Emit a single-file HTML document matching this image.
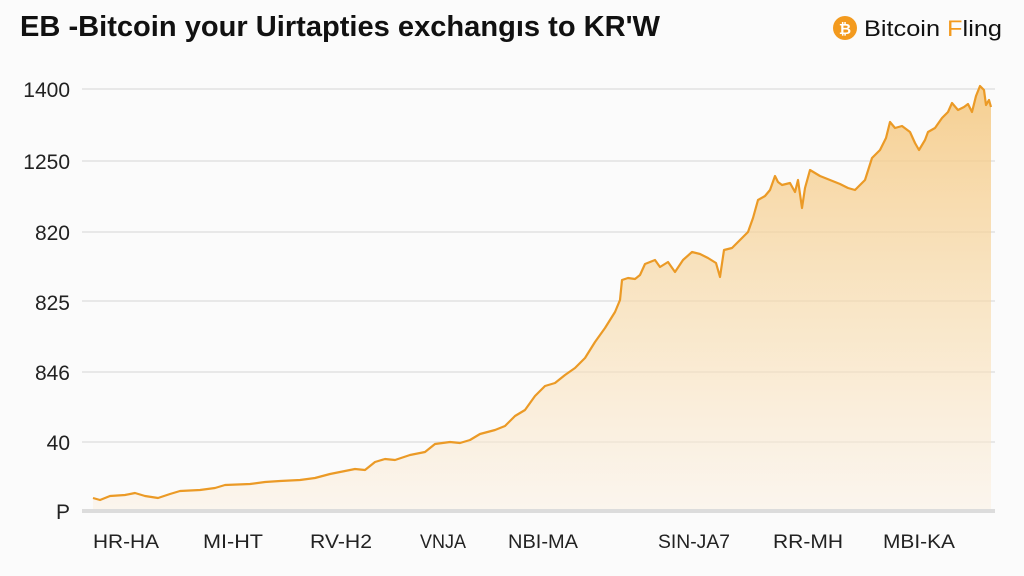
<!DOCTYPE html>
<html><head><meta charset="utf-8"><style>
html,body{margin:0;padding:0;background:#fbfbfb;width:1024px;height:576px;overflow:hidden}
svg{display:block}
text{font-family:"Liberation Sans","DejaVu Sans",sans-serif}
</style></head><body>
<svg width="1024" height="576" viewBox="0 0 1024 576">
<defs>
<linearGradient id="g" x1="0" y1="0" x2="0" y2="1">
<stop offset="0" stop-color="#f5c77e" stop-opacity="0.85"/>
<stop offset="0.6" stop-color="#f8dcae" stop-opacity="0.6"/>
<stop offset="1" stop-color="#fbefe0" stop-opacity="0.5"/>
</linearGradient>
</defs>
<rect width="1024" height="576" fill="#fbfbfb"/>
<text x="20" y="36" font-size="29" font-weight="bold" fill="#111" textLength="640" lengthAdjust="spacingAndGlyphs">EB -Bitcoin your Uirtapties exchangıs to KR'W</text>
<circle cx="845" cy="28" r="12" fill="#f39a1e"/>
<text x="845" y="34" font-size="15" font-weight="bold" fill="#fff" text-anchor="middle">₿</text>
<text x="864" y="36" font-size="22" fill="#111" textLength="138" lengthAdjust="spacingAndGlyphs">Bitcoin <tspan fill="#f39a1e">F</tspan>ling</text>
<g stroke="#e2e2e2" stroke-width="1.5">
<line x1="82" y1="89" x2="995" y2="89"/>
<line x1="82" y1="161" x2="995" y2="161"/>
<line x1="82" y1="232" x2="995" y2="232"/>
<line x1="82" y1="301" x2="995" y2="301"/>
<line x1="82" y1="372" x2="995" y2="372"/>
<line x1="82" y1="442" x2="995" y2="442"/>
</g>
<g font-size="21" fill="#222" text-anchor="end">
<text x="70" y="97">1400</text>
<text x="70" y="169">1250</text>
<text x="70" y="240">820</text>
<text x="70" y="310">825</text>
<text x="70" y="380">846</text>
<text x="70" y="450">40</text>
<text x="70" y="519">P</text>
</g>
<path d="M93,498 L100,500 L110,496 L125,495 L135,493 L145,496 L158,498 L170,494 L180,491 L200,490 L215,488 L225,485 L250,484 L265,482 L280,481 L300,480 L315,478 L330,474 L345,471 L355,469 L365,470 L375,462 L385,459 L395,460 L410,455 L425,452 L435,444 L450,442 L460,443 L470,440 L480,434 L495,430 L505,426 L515,416 L525,410 L535,396 L545,386 L555,383 L565,375 L575,368 L585,358 L595,342 L605,328 L615,312 L620,300 L622,280 L628,278 L635,279 L640,275 L645,264 L650,262 L655,260 L660,267 L668,262 L675,272 L683,260 L692,252 L700,254 L708,258 L716,263 L720,277 L724,250 L732,248 L740,240 L748,232 L753,218 L758,200 L765,196 L770,190 L775,176 L778,182 L782,185 L790,183 L795,192 L798,180 L802,208 L805,188 L810,170 L820,176 L830,180 L840,184 L848,188 L855,190 L865,180 L872,158 L880,150 L886,138 L890,122 L895,128 L902,126 L910,132 L915,143 L919,150 L925,140 L928,132 L935,128 L942,118 L948,112 L952,103 L958,110 L964,107 L968,104 L972,112 L976,96 L980,86 L984,90 L986,105 L989,100 L991,107 L991,510 L93,510 Z" fill="url(#g)"/>
<path d="M93,498 L100,500 L110,496 L125,495 L135,493 L145,496 L158,498 L170,494 L180,491 L200,490 L215,488 L225,485 L250,484 L265,482 L280,481 L300,480 L315,478 L330,474 L345,471 L355,469 L365,470 L375,462 L385,459 L395,460 L410,455 L425,452 L435,444 L450,442 L460,443 L470,440 L480,434 L495,430 L505,426 L515,416 L525,410 L535,396 L545,386 L555,383 L565,375 L575,368 L585,358 L595,342 L605,328 L615,312 L620,300 L622,280 L628,278 L635,279 L640,275 L645,264 L650,262 L655,260 L660,267 L668,262 L675,272 L683,260 L692,252 L700,254 L708,258 L716,263 L720,277 L724,250 L732,248 L740,240 L748,232 L753,218 L758,200 L765,196 L770,190 L775,176 L778,182 L782,185 L790,183 L795,192 L798,180 L802,208 L805,188 L810,170 L820,176 L830,180 L840,184 L848,188 L855,190 L865,180 L872,158 L880,150 L886,138 L890,122 L895,128 L902,126 L910,132 L915,143 L919,150 L925,140 L928,132 L935,128 L942,118 L948,112 L952,103 L958,110 L964,107 L968,104 L972,112 L976,96 L980,86 L984,90 L986,105 L989,100 L991,107" fill="none" stroke="#eb9a26" stroke-width="2.2" stroke-linejoin="round"/>
<line x1="82" y1="511" x2="995" y2="511" stroke="#dcdcdc" stroke-width="4"/>
<g font-size="19" fill="#222">
<text x="93" y="548" textLength="66" lengthAdjust="spacingAndGlyphs">HR-HA</text>
<text x="203" y="548" textLength="60" lengthAdjust="spacingAndGlyphs">MI-HT</text>
<text x="310" y="548" textLength="62" lengthAdjust="spacingAndGlyphs">RV-H2</text>
<text x="420" y="548" textLength="46" lengthAdjust="spacingAndGlyphs">VNJA</text>
<text x="508" y="548" textLength="70" lengthAdjust="spacingAndGlyphs">NBI-MA</text>
<text x="658" y="548" textLength="72" lengthAdjust="spacingAndGlyphs">SIN-JA7</text>
<text x="773" y="548" textLength="70" lengthAdjust="spacingAndGlyphs">RR-MH</text>
<text x="883" y="548" textLength="72" lengthAdjust="spacingAndGlyphs">MBI-KA</text>
</g>
</svg>
</body></html>
